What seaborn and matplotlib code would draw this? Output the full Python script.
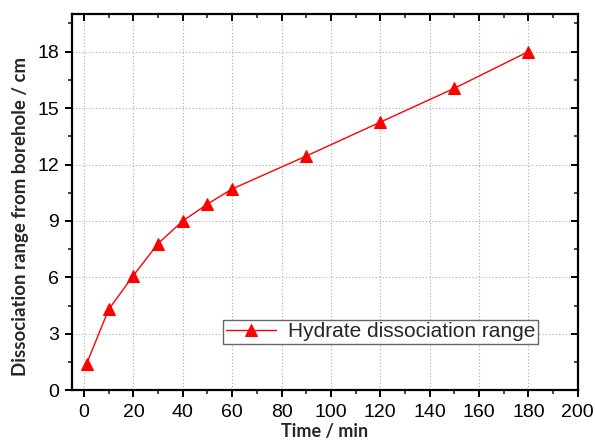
import matplotlib
matplotlib.use("Agg")
import matplotlib.pyplot as plt
import seaborn as sns
import pandas as pd
from matplotlib.ticker import MultipleLocator

time_min = [1, 10, 20, 30, 40, 50, 60, 90, 120, 150, 180]
dissociation_cm = [1.4, 4.3, 6.1, 7.8, 9.0, 9.9, 10.7, 12.45, 14.25, 16.05, 18.0]
series_name = "Hydrate dissociation range"
x_label = "Time / min"
y_label = "Dissociation range from borehole / cm"

df = pd.DataFrame({"time": time_min, "range": dissociation_cm, "series": series_name})

sns.set_style("ticks")
plt.rcParams["font.family"] = ["Liberation Sans", "DejaVu Sans"]

fig = plt.figure(figsize=(5.95, 4.44), dpi=100)
ax = fig.add_axes([0.1205, 0.121, 0.8505, 0.8475])

sns.lineplot(data=df, x="time", y="range", hue="series", palette=["#ff0000"],
             marker="^", markersize=8.5, markeredgecolor="#ff0000", linewidth=1.0,
             ax=ax, zorder=3)

ax.set_xlim(-5, 200)
ax.set_ylim(0, 20)
ax.xaxis.set_major_locator(MultipleLocator(20))
ax.xaxis.set_minor_locator(MultipleLocator(10))
ax.set_yticks([0, 3, 6, 9, 12, 15, 18])
ax.yaxis.set_minor_locator(MultipleLocator(1.5))

ax.grid(True, which="major", linestyle=(0, (1, 2)), color="#aaaaaa", linewidth=0.8)

for s in ax.spines.values():
    s.set_visible(True)
    s.set_linewidth(1.6)
    s.set_color("black")

ax.tick_params(axis="both", which="major", labelsize=14, length=5, width=1.4,
               colors="black", direction="out")
ax.tick_params(axis="x", which="major", pad=5)
ax.tick_params(axis="y", which="major", pad=4)
ax.tick_params(axis="both", which="minor", length=3, width=1.2, direction="out")
ax.tick_params(axis="x", which="both", top=True)
ax.tick_params(axis="y", which="both", right=True)
for tick in ax.xaxis.get_major_ticks() + ax.xaxis.get_minor_ticks():
    tick.tick2line.set_marker(3)  # inward at top
for tick in ax.yaxis.get_major_ticks() + ax.yaxis.get_minor_ticks():
    tick.tick2line.set_marker(0)  # inward at right

ax.set_xlabel(x_label, fontsize=13, fontweight="bold", family=["Lato", "DejaVu Sans"], labelpad=1)
ax.set_ylabel(y_label, fontsize=13.4, fontweight="bold", family=["Lato", "DejaVu Sans"])
ax.yaxis.set_label_coords(-0.084, 0.462)

leg = ax.legend(loc="lower left", bbox_to_anchor=(0.299, 0.123), borderaxespad=0,
                fontsize=15, frameon=True, fancybox=False, edgecolor="#666666",
                framealpha=1, handlelength=2.4, borderpad=0.12, handletextpad=0.6)
leg.get_frame().set_linewidth(1.0)

fig.savefig("out.png", dpi=100)
